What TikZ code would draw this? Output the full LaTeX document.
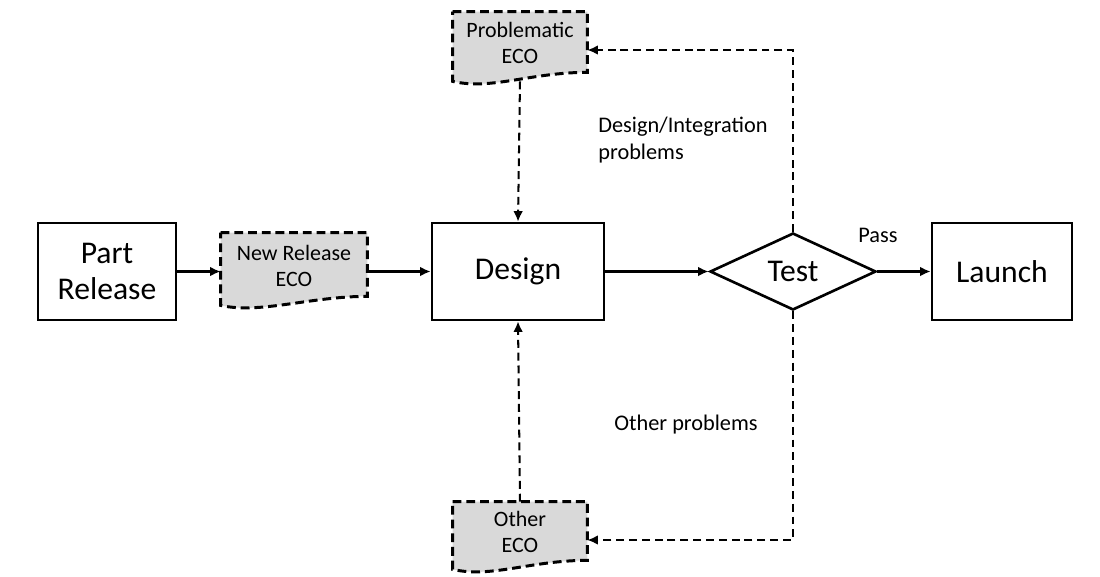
\documentclass[tikz,border=0pt]{standalone}
\usepackage{fontspec}
\setmainfont{Carlito}
\usetikzlibrary{calc,arrows.meta,shapes.geometric}
\tikzset{
  box/.style={draw,line width=1.5pt,minimum width={138*0.02cm},minimum height={97*0.02cm},inner sep=0pt,
    align=center,font=\fontsize{18}{20.5}\selectfont},
  docnode/.style={inner sep=0pt,align=center,font=\fontsize{12.5}{14.8}\selectfont},
  docline/.style={draw,fill=black!15,line width=1.7pt,dash pattern=on 5pt off 2.8pt},
  conn/.style={line width=1.15pt,-{Latex[length=6pt,width=5.5pt]}},
  dconn/.style={conn,dash pattern=on 4.5pt off 2.8pt},
  lbl/.style={inner sep=0pt,align=left,font=\fontsize{12.7}{15.3}\selectfont},
}
\newcommand{\docshape}[1]{%
  \path[docline] (#1.north west) -- (#1.north east) -- (#1.south east)
    .. controls ($(#1.south east)+(-57,0)$) and ($(#1.south west)+(39,18)$)
    .. ($(#1.south west)+(0,9)$) -- cycle;}
\begin{document}
\begin{tikzpicture}[x=0.02cm,y=-0.02cm]
\useasboundingbox (0,0) rectangle (1100,576);
% doc shapes (invisible nodes for geometry)
\node[docnode,minimum width={146*0.02cm},minimum height={63*0.02cm}] (nr) at (294,264.5) {};
\node[docnode,minimum width={134*0.02cm},minimum height={60*0.02cm}] (pe) at (520,42) {};
\node[docnode,minimum width={134*0.02cm},minimum height={58*0.02cm}] (oe) at (520,531) {};
\docshape{nr}
\docshape{pe}
\docshape{oe}
\node[docnode] at ($(nr)+(0,1)$) {New Release\\ECO};
\node[docnode] at ($(pe)+(0,1)$) {Problematic\\ECO};
\node[docnode] at ($(oe)+(0,1)$) {Other\\ECO};
% main nodes
\node[box] (pr) at (107,271.5) {Part\\Release};
\node[box,minimum width={172*0.02cm}] (ds) at (518,271.5) {Design};
\node[box,minimum width={140*0.02cm}] (la) at (1002,271.5) {Launch};
\node[draw,line width=1.5pt,diamond,minimum width={166*0.02cm},minimum height={77*0.02cm},inner sep=0pt,
  font=\fontsize{18}{20.5}\selectfont] (te) at (793,271.5) {Test};
% connectors
\draw[conn] (pr.east) -- (nr.west |- pr.east);
\draw[conn] (nr.east |- ds.west) -- (ds.west);
\draw[conn] (ds.east) -- (te.west);
\draw[conn] (te.east) -- (la.west);
\draw[dconn] (te.north) |- ($(pe.east)+(0,8)$);
\draw[dconn] (te.south) |- ($(oe.east)+(0,9)$);
\draw[dconn] ($(pe.south)+(0,9)$) -- (ds.north);
\draw[dconn] (oe.north) -- (ds.south);
% labels
\node[lbl,anchor=north west] (l1) at (598,117) {Design/Integration\\problems};
\node[lbl,anchor=west] (l2) at (614,425) {Other problems};
\node[lbl,anchor=west] (l3) at (858,235) {Pass};
\end{tikzpicture}
\end{document}
